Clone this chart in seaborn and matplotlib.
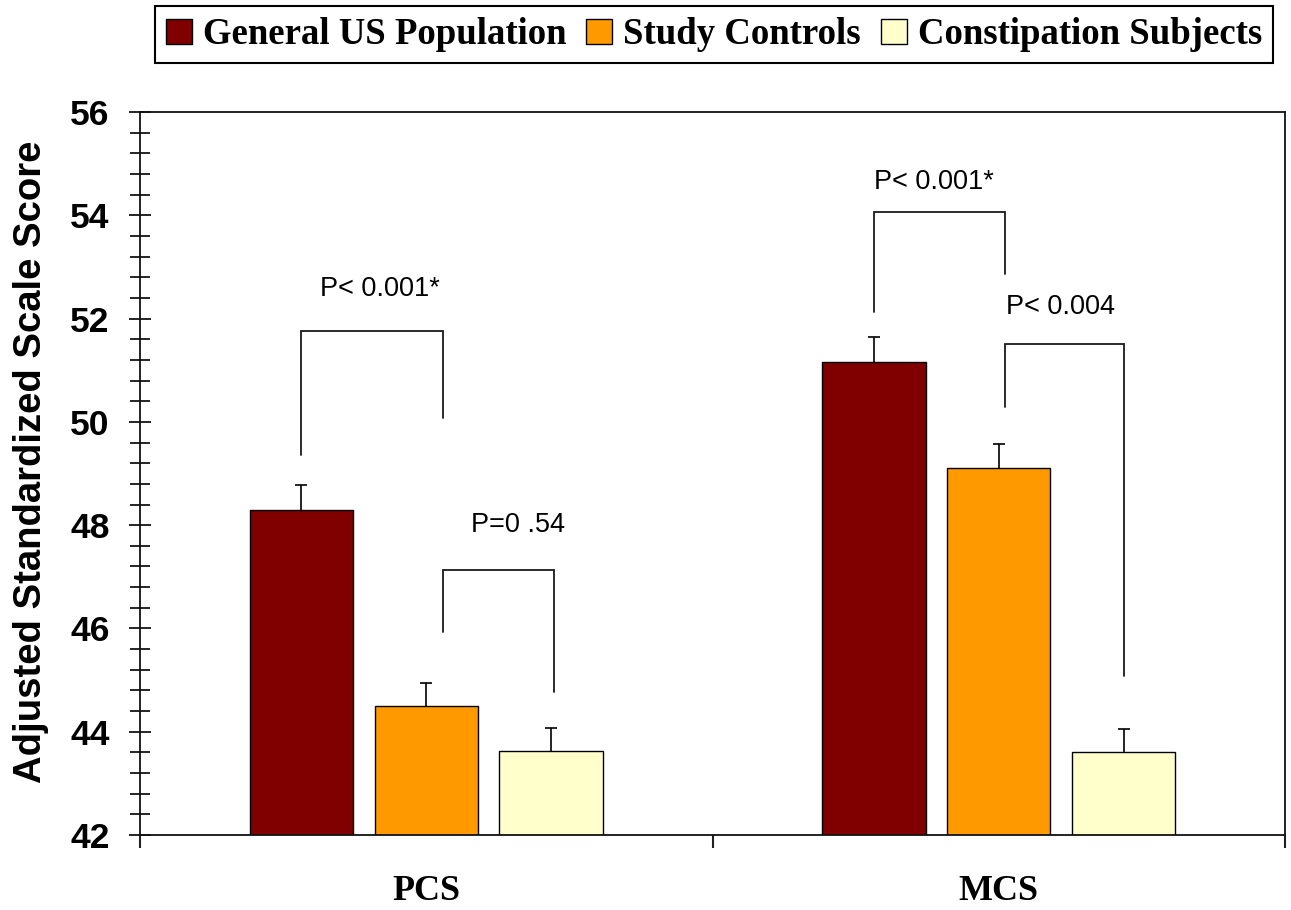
import matplotlib
matplotlib.use('Agg')
import matplotlib.pyplot as plt
import matplotlib.ticker as mticker
from matplotlib.container import BarContainer
import seaborn as sns
import pandas as pd

# ---------------------------------------------------------------
# data
# ---------------------------------------------------------------
scales = ['PCS', 'MCS']
groups = ['General US Population', 'Study Controls', 'Constipation Subjects']
pcs_means = [48.3, 44.5, 43.63]
mcs_means = [51.15, 49.1, 43.6]
pcs_err = [0.47, 0.45, 0.45]
mcs_err = [0.5, 0.48, 0.45]
colors = ['#800000', '#FF9900', '#FFFFCC']

# brackets: (scale, left bar, right bar, left leg bottom, top, right leg bottom,
#            label, label y, label x offset from left leg)
brackets = [
    ('PCS', 0, 1, 49.36, 51.76, 50.07, 'P< 0.001*', 52.57, 0.033),
    ('PCS', 1, 2, 45.93, 47.13, 44.77, 'P=0 .54', 48.0, 0.049),
    ('MCS', 0, 1, 52.13, 54.06, 52.86, 'P< 0.001*', 54.65, 0.0),
    ('MCS', 1, 2, 50.29, 51.51, 45.08, 'P< 0.004', 52.22, 0.003),
]
# small horizontal shift of bracket legs from the bar centres (data units)
bracket_shift = {('PCS', 0): 0.0, ('PCS', 1): 0.03, ('PCS', 2): 0.005,
                 ('MCS', 0): 0.0, ('MCS', 1): 0.01, ('MCS', 2): 0.0}

df = pd.DataFrame({
    'scale': [s for s in scales for _ in groups],
    'group': groups * len(scales),
    'score': pcs_means + mcs_means,
    'err': pcs_err + mcs_err,
})

# ---------------------------------------------------------------
# plot
# ---------------------------------------------------------------
sns.set_style('ticks')
plt.rcParams['font.family'] = ['Liberation Sans', 'DejaVu Sans']
plt.rcParams.update({'text.color': 'black', 'axes.labelcolor': 'black',
                     'xtick.color': 'black', 'ytick.color': 'black'})

fig = plt.figure(figsize=(12.91, 9.10), dpi=100)
ax = fig.add_axes([0.1084, 0.0824, 0.887, 0.7945])

sns.barplot(data=df, x='scale', y='score', hue='group', order=scales,
            hue_order=groups, palette=colors, saturation=1, width=0.654,
            gap=0.174, edgecolor='black', linewidth=1.0, errorbar=None,
            zorder=2, ax=ax)

# bar centres per (scale, group), error bars hidden below the bar tops
bar_conts = [c for c in ax.containers if isinstance(c, BarContainer)]
centres = {}
for gi, cont in enumerate(bar_conts):
    for si, bar in enumerate(cont.patches):
        cx = bar.get_x() + bar.get_width() / 2
        centres[(scales[si], gi)] = cx
        row = df[(df.scale == scales[si]) & (df.group == groups[gi])].iloc[0]
        ax.errorbar(cx, row.score, yerr=row.err, fmt='none',
                    ecolor='black', elinewidth=1.2, capsize=4.5, capthick=1.2,
                    zorder=1)

for sc, a, b, yl, yt, yr, label, ly, lx in brackets:
    xa = centres[(sc, a)] + bracket_shift[(sc, a)]
    xb = centres[(sc, b)] + bracket_shift[(sc, b)]
    ax.plot([xa, xa, xb, xb], [yl, yt, yt, yr], color='#1a1a1a', lw=1.3,
            solid_joinstyle='miter', zorder=3)
    ax.text(xa + lx, ly, label, fontsize=19.5, ha='left', va='center',
            color='black', family=['Liberation Sans', 'DejaVu Sans'])

ax.set_ylim(42, 56)
ax.set_xlim(-0.5, 1.5)
ax.yaxis.set_major_locator(mticker.MultipleLocator(2))
ax.yaxis.set_minor_locator(mticker.MultipleLocator(0.4))
ax.tick_params(axis='y', which='major', direction='inout', length=16.5,
               width=1.2, labelsize=25.5, pad=13.5, color='black')
ax.tick_params(axis='y', which='minor', direction='inout', length=14,
               width=1.2, color='black')
for t in ax.get_yticklabels():
    t.set_fontweight('bold')

ax.set_xticks([0, 1])
ax.set_xticks([-0.5, 0.5, 1.5], minor=True)
ax.tick_params(axis='x', which='major', length=0, pad=29)
ax.tick_params(axis='x', which='minor', direction='out', length=9, width=1.5,
               color='#222222')
ax.set_xticklabels(scales, fontsize=26, fontweight='bold',
                   family=['Liberation Serif', 'DejaVu Serif'])

ax.set_xlabel('')
ax.set_ylabel('Adjusted Standardized Scale Score', fontsize=27.5,
              fontweight='bold')
ax.yaxis.set_label_coords(-0.079, 0.516)

for sp in ax.spines.values():
    sp.set_color('#111111')
    sp.set_linewidth(1.3)

sns.move_legend(ax, 'center', bbox_to_anchor=(0.553, 0.962),
                bbox_transform=fig.transFigure, ncol=3, title=None,
                frameon=True, fancybox=False, edgecolor='black',
                handlelength=0.7, handleheight=0.68, handletextpad=0.3,
                columnspacing=0.55, borderpad=0.3,
                prop={'family': ['Liberation Serif', 'DejaVu Serif'],
                      'weight': 'bold', 'size': 26.5})
leg = ax.get_legend()
leg.get_frame().set_linewidth(1.5)
leg.get_frame().set_alpha(1)

fig.savefig('out.png', dpi=100)
